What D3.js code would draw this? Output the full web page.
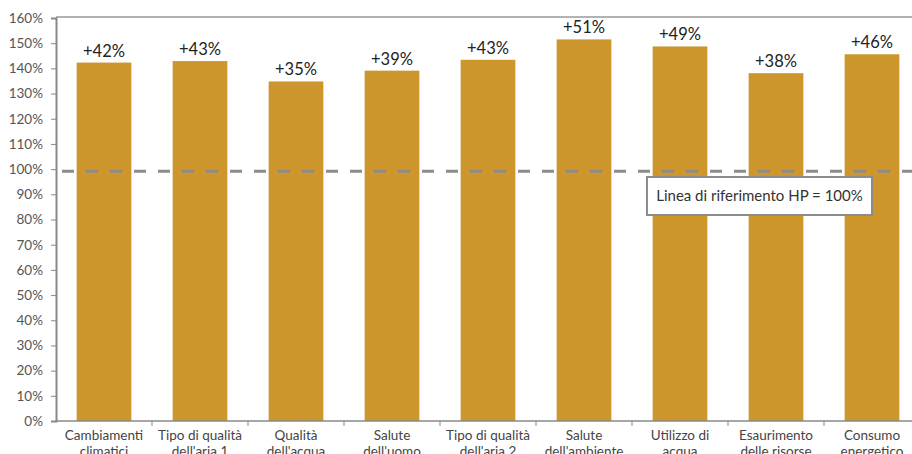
<!DOCTYPE html>
<meta charset="utf-8">
<style>
    body { margin: 0; background: #fff; }
    text { font-family: Lato, sans-serif; }
</style>
<body>
<script src="https://cdn.jsdelivr.net/npm/d3@7"></script>
<script>
    // data
    var categories = [
        ["Cambiamenti", "climatici"],
        ["Tipo di qualità", "dell'aria 1"],
        ["Qualità", "dell'acqua"],
        ["Salute", "dell'uomo"],
        ["Tipo di qualità", "dell'aria 2"],
        ["Salute", "dell'ambiente"],
        ["Utilizzo di", "acqua"],
        ["Esaurimento", "delle risorse"],
        ["Consumo", "energetico"]
    ];
    var values = [142.3, 142.9, 134.8, 139.1, 143.4, 151.5, 148.7, 138.1, 145.6];
    var valueLabels = ["+42%", "+43%", "+35%", "+39%", "+43%", "+51%", "+49%", "+38%", "+46%"];
    var yTicks = d3.range(0, 161, 10);
    var refValue = 100;
    var refLabel = "Linea di riferimento HP = 100%";

    var margin = { top: 18, right: -8, bottom: 33, left: 56 },
        W = 912, H = 454,
        width = W - margin.left - margin.right,
        height = H - margin.top - margin.bottom;

    var svg = d3.select("body").append("svg")
        .attr("width", W)
        .attr("height", H);

    var g = svg.append("g")
        .attr("transform", "translate(" + margin.left + "," + margin.top + ")");

    var x = d3.scaleBand()
        .domain(d3.range(categories.length))
        .range([0, width])
        .paddingInner(0.43)
        .paddingOuter(0.215);

    var y = d3.scaleLinear().domain([0, 160]).range([height, 0]);

    // top border
    g.append("line")
        .attr("x1", 0).attr("x2", W)
        .attr("y1", -1).attr("y2", -1)
        .attr("stroke", "#999").attr("stroke-width", 1.5);

    // bars
    g.selectAll(".bar")
        .data(values)
        .enter().append("rect")
        .attr("class", "bar")
        .attr("x", function (d, i) { return x(i); })
        .attr("width", x.bandwidth())
        .attr("y", function (d) { return y(d); })
        .attr("height", function (d) { return height - y(d); })
        .attr("fill", "#cc962d");

    // value labels
    g.selectAll(".vlabel")
        .data(values)
        .enter().append("text")
        .attr("x", function (d, i) { return x(i) + x.bandwidth() / 2; })
        .attr("y", function (d) { return y(d) - 6; })
        .attr("text-anchor", "middle")
        .attr("font-size", "16.5px")
        .attr("fill", "#222")
        .text(function (d, i) { return valueLabels[i]; });

    // y axis
    var yAxis = g.append("g")
        .call(d3.axisLeft(y).tickValues(yTicks).tickSize(5).tickPadding(8)
            .tickFormat(function (d) { return d + "%"; }));
    yAxis.select(".domain").attr("stroke", "#888").attr("stroke-width", 2);
    yAxis.selectAll(".tick line").attr("stroke", "#888");
    yAxis.selectAll("text").attr("font-size", "13.5px").attr("fill", "#555")
        .style("font-family", "Lato, sans-serif");

    // x axis
    var xAxisG = g.append("g").attr("transform", "translate(0," + height + ")");
    xAxisG.append("line")
        .attr("x1", 0).attr("x2", width)
        .attr("stroke", "#888").attr("stroke-width", 1.5);
    var step = x.step();
    xAxisG.selectAll(".sep")
        .data(d3.range(1, categories.length + 1))
        .enter().append("line")
        .attr("x1", function (d) { return d * step; })
        .attr("x2", function (d) { return d * step; })
        .attr("y1", 0).attr("y2", 5)
        .attr("stroke", "#888");
    var xl = xAxisG.selectAll(".xlabel")
        .data(categories)
        .enter().append("text")
        .attr("text-anchor", "middle")
        .attr("font-size", "13.5px")
        .attr("fill", "#444")
        .attr("transform", function (d, i) { return "translate(" + (x(i) + x.bandwidth() / 2) + ",19)"; });
    xl.selectAll("tspan")
        .data(function (d) { return d; })
        .enter().append("tspan")
        .attr("x", 0)
        .attr("dy", function (d, i) { return i === 0 ? 0 : 16; })
        .text(function (d) { return d; });

    // reference line
    g.append("line")
        .attr("x1", 6).attr("x2", W)
        .attr("y1", y(refValue) + 2).attr("y2", y(refValue) + 2)
        .attr("stroke", "#8c8c8c")
        .attr("stroke-width", 3)
        .attr("stroke-dasharray", "12,12");

    // annotation box
    var boxX = 647 - margin.left, boxY = 177 - margin.top;
    g.append("rect")
        .attr("x", boxX).attr("y", boxY)
        .attr("width", 225).attr("height", 38)
        .attr("fill", "#fff")
        .attr("stroke", "#8c8c8c")
        .attr("stroke-width", 2);
    g.append("text")
        .attr("x", boxX + 112.5).attr("y", boxY + 24)
        .attr("text-anchor", "middle")
        .attr("font-size", "15px")
        .attr("fill", "#333")
        .text(refLabel);
</script>
</body>
